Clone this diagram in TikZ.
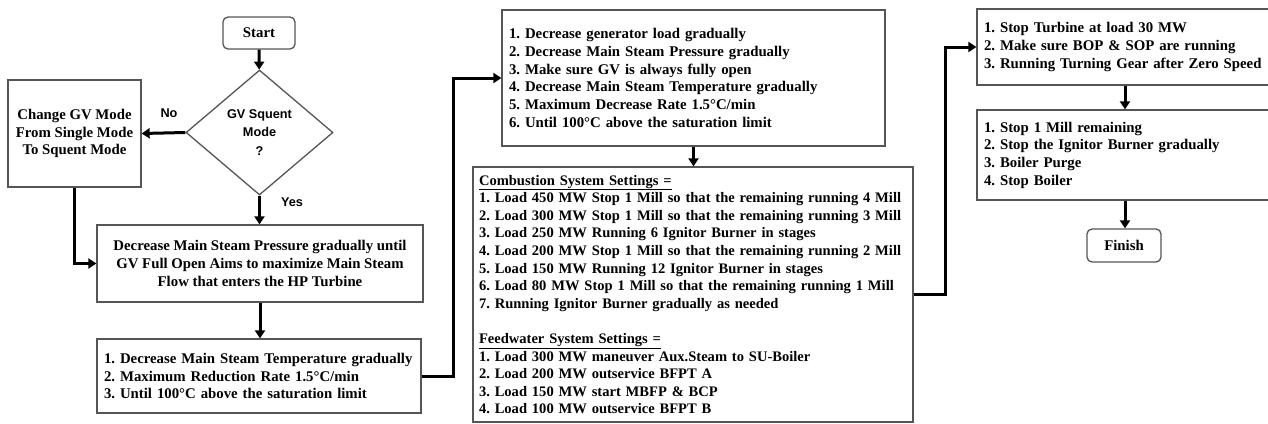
\documentclass[tikz,border=0pt]{standalone}
\usepackage{fontspec}
\setmainfont{Liberation Serif}
\newfontfamily\labelfont{Liberation Sans}
\usetikzlibrary{shapes.geometric,arrows.meta}
\definecolor{boxgray}{RGB}{85,85,85}
\frenchspacing
\begin{document}
\begin{tikzpicture}[x=1pt,y=-1pt,
  box/.style={draw=boxgray, line width=1.3pt, rectangle, inner ysep=0pt, inner xsep=7pt,
    font=\frenchspacing\bfseries\fontsize{14.8}{17.7}\selectfont},
  leftbox/.style={box, align=left},
  centerbox/.style={box, align=center, inner xsep=2pt},
  term/.style={box, rounded corners=5pt, inner xsep=2pt, align=center},
  lbl/.style={font=\labelfont\bfseries\fontsize{12.7}{15}\selectfont, inner sep=0pt},
  arr/.style={line width=3pt, -{Triangle[length=8pt,width=10pt]}}
]
\useasboundingbox (0,0) rectangle (1268,423);

\node[term, minimum width=72pt, minimum height=32pt] (start) at (259,33) {Start};
\node[diamond, draw=boxgray, line width=1.3pt, minimum width=147pt, minimum height=125pt,
  inner sep=0pt, aspect=1.18, align=center,
  font=\labelfont\bfseries\fontsize{12.7}{18.5}\selectfont] (dec) at (259.5,132.5) {GV Squent\\Mode\\?};
\node[centerbox, minimum width=133pt, minimum height=107pt] (change) at (74.5,133.5)
  {Change GV Mode\\From Single Mode\\To Squent Mode};
\node[centerbox, minimum width=326pt, minimum height=77pt] (pres) at (260,263.5)
  {Decrease Main Steam Pressure gradually until\\GV Full Open Aims to maximize Main Steam\\Flow that enters the HP Turbine};
\node[leftbox, text width=310pt, minimum height=74pt] (temp) at (259,376)
  {1. Decrease Main Steam Temperature gradually\\2. Maximum Reduction Rate 1.5°C/min\\3. Until 100°C above the saturation limit};
\node[leftbox, text width=369pt, minimum height=136pt] (mtop) at (693.5,78)
  {1. Decrease generator load gradually\\2. Decrease Main Steam Pressure gradually\\3. Make sure GV is always fully open\\4. Decrease Main Steam Temperature gradually\\5. Maximum Decrease Rate 1.5°C/min\\6. Until 100°C above the saturation limit};
\node[leftbox, inner xsep=6pt, text width=428pt, minimum height=255pt,
  font=\frenchspacing\bfseries\fontsize{14.55}{17.6}\selectfont] (mbot) at (693,294.5)
  {\underline{Combustion System Settings =}\\
   1. Load 450 MW Stop 1 Mill so that the remaining running 4 Mill\\
   2. Load 300 MW Stop 1 Mill so that the remaining running 3 Mill\\
   3. Load 250 MW Running 6 Ignitor Burner in stages\\
   4. Load 200 MW Stop 1 Mill so that the remaining running 2 Mill\\
   5. Load 150 MW Running 12 Ignitor Burner in stages\\
   6. Load 80 MW Stop 1 Mill so that the remaining running 1 Mill\\
   7. Running Ignitor Burner gradually as needed\\[17.6pt]
   \underline{Feedwater System Settings =}\\
   1. Load 300 MW maneuver Aux.Steam to SU-Boiler\\
   2. Load 200 MW outservice BFPT A\\
   3. Load 150 MW start MBFP \& BCP\\
   4. Load 100 MW outservice BFPT B};
\node[leftbox, text width=282pt, minimum height=76pt] (rtop) at (1125,47)
  {1. Stop Turbine at load 30 MW\\2. Make sure BOP \& SOP are running\\3. Running Turning Gear after Zero Speed};
\node[leftbox, text width=282pt, minimum height=90pt] (rmid) at (1125,155)
  {1. Stop 1 Mill remaining\\2. Stop the Ignitor Burner gradually\\3. Boiler Purge\\4. Stop Boiler};
\node[term, minimum width=74pt, minimum height=33pt] (finish) at (1124,245.5) {Finish};

\node[lbl] (lno) at (169,113) {No};
\node[lbl] (lyes) at (292,202) {Yes};

\draw[arr] (start) -- (dec);
\draw[arr] (dec.west) -- (change.east);
\draw[arr] (dec.south) -- (dec.south |- pres.north);
\draw[arr] (change.south) |- (pres.west);
\draw[arr] (pres.south) -- (pres.south |- temp.north);
\draw[arr] (temp.east) -- ++(32,0) |- (mtop.west);
\draw[arr] (mtop.south) -- (mtop.south |- mbot.north);
\draw[arr] (mbot.east) -- ++(32,0) |- (rtop.west);
\draw[arr] (rtop.south) -- (rtop.south |- rmid.north);
\draw[arr] (rmid.south) -- (rmid.south |- finish.north);
\end{tikzpicture}
\end{document}
